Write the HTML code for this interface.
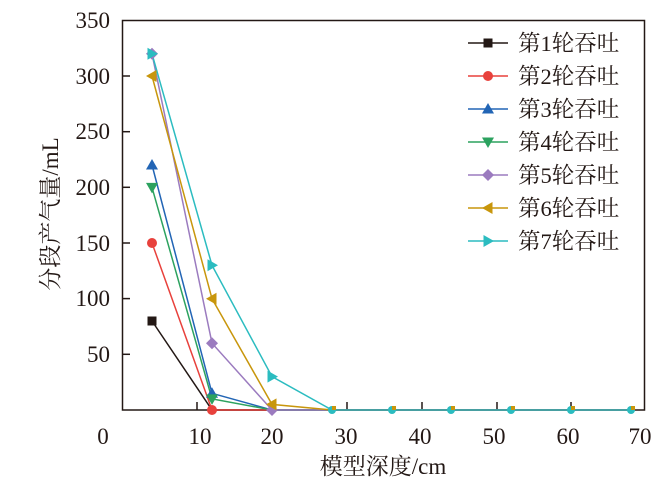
<!DOCTYPE html>
<html><head><meta charset="utf-8"><style>
html,body{margin:0;padding:0;background:#fff;}
svg{display:block;}
text{font-family:"Liberation Serif","Noto Serif CJK SC",serif;fill:#231815;}
</style></head><body>
<svg width="669" height="491" viewBox="0 0 669 491" xmlns="http://www.w3.org/2000/svg">
<defs>
<g id="sq"><rect x="-4.5" y="-4.5" width="9" height="9"/></g>
<g id="ci"><circle r="5"/></g>
<g id="tu"><polygon points="0,-6 6,4.5 -6,4.5"/></g>
<g id="td"><polygon points="0,6 6,-4.5 -6,-4.5"/></g>
<g id="di"><polygon points="0,-6 6,0 0,6 -6,0"/></g>
<g id="tl"><polygon points="-6,0 4.5,-6 4.5,6"/></g>
<g id="tr"><polygon points="6,0 -4.5,-6 -4.5,6"/></g>
<g id="sm"><circle r="4"/></g>
</defs>
<rect x="122.5" y="20.5" width="522" height="389.5" fill="none" stroke="#231815" stroke-width="1.5"/>
<g stroke="#231815" stroke-width="1.5">
<line x1="122" y1="354.3" x2="130" y2="354.3"/>
<line x1="122" y1="298.6" x2="130" y2="298.6"/>
<line x1="122" y1="243" x2="130" y2="243"/>
<line x1="122" y1="187.3" x2="130" y2="187.3"/>
<line x1="122" y1="131.7" x2="130" y2="131.7"/>
<line x1="122" y1="76" x2="130" y2="76"/>
<line x1="197" y1="410" x2="197" y2="402"/>
<line x1="272" y1="410" x2="272" y2="402"/>
<line x1="347" y1="410" x2="347" y2="402"/>
<line x1="422" y1="410" x2="422" y2="402"/>
<line x1="497" y1="410" x2="497" y2="402"/>
<line x1="571" y1="410" x2="571" y2="402"/>
</g>
<g font-size="23" text-anchor="end">
<text x="110" y="362">50</text>
<text x="110" y="306">100</text>
<text x="110" y="251">150</text>
<text x="110" y="195">200</text>
<text x="110" y="139">250</text>
<text x="110" y="84">300</text>
<text x="110" y="28">350</text>
</g>
<g font-size="23" text-anchor="middle">
<text x="103" y="444">0</text>
<text x="200" y="444">10</text>
<text x="272" y="444">20</text>
<text x="346" y="444">30</text>
<text x="420" y="444">40</text>
<text x="494" y="444">50</text>
<text x="568" y="444">60</text>
<text x="640" y="444">70</text>
</g>
<text x="383" y="474" font-size="23" text-anchor="middle">模型深度/cm</text>
<text transform="translate(58,214) rotate(-90)" font-size="23" text-anchor="middle">分段产气量/mL</text>
<g fill="none" stroke-width="1.5">
<polyline stroke="#231815" points="152,321 212,410 272,410 332,410 392,410 451,410 511,410 571,410 631,410"/>
<polyline stroke="#e8413c" points="152,243 212,410 272,410 332,410 392,410 451,410 511,410 571,410 631,410"/>
<polyline stroke="#2265b5" points="152,165 212,393.3 272,410 332,410"/>
<polyline stroke="#2ca25f" points="152,187.4 212,398.9 272,410 332,410"/>
<polyline stroke="#9b7bbf" points="152,53.8 212,343.2 272,410 332,410"/>
<polyline stroke="#c8960c" points="152,76 212,298.7 272,404.4 332,410"/>
<polyline stroke="#2bbcc0" points="152,53.8 212,265.3 272,376.6 332,410 392,410 451,410 511,410 571,410 631,410"/>
</g>
<g fill="#231815"><use href="#sq" x="152" y="321"/></g>
<g fill="#e8413c"><use href="#ci" x="152" y="243"/><use href="#ci" x="212" y="410"/></g>
<g fill="#2265b5"><use href="#tu" x="152" y="165"/><use href="#tu" x="212" y="393.3"/></g>
<g fill="#2ca25f"><use href="#td" x="152" y="187.4"/><use href="#td" x="212" y="398.9"/></g>
<g fill="#9b7bbf"><use href="#di" x="152" y="53.8"/><use href="#di" x="212" y="343.2"/><use href="#di" x="272" y="410"/></g>
<g fill="#c8960c"><use href="#tl" x="152" y="76"/><use href="#tl" x="212" y="298.7"/><use href="#tl" x="272" y="404.4"/></g>
<g fill="#2bbcc0"><use href="#tr" x="152" y="53.8"/><use href="#tr" x="212" y="265.3"/><use href="#tr" x="272" y="376.6"/></g>
<g fill="#2bbcc0">
<use href="#sm" x="332" y="410"/><use href="#sm" x="392" y="410"/><use href="#sm" x="451" y="410"/><use href="#sm" x="511" y="410"/><use href="#sm" x="571" y="410"/><use href="#sm" x="631" y="410"/></g>
<g fill="#c8960c">
<rect x="332" y="406" width="4" height="4"/><rect x="392" y="406" width="4" height="4"/><rect x="451" y="406" width="4" height="4"/><rect x="511" y="406" width="4" height="4"/><rect x="571" y="406" width="4" height="4"/><rect x="631" y="406" width="4" height="4"/></g>
<g stroke-width="1.5">
<line x1="468" y1="43" x2="508" y2="43" stroke="#231815"/>
<line x1="468" y1="76" x2="508" y2="76" stroke="#e8413c"/>
<line x1="468" y1="109" x2="508" y2="109" stroke="#2265b5"/>
<line x1="468" y1="142" x2="508" y2="142" stroke="#2ca25f"/>
<line x1="468" y1="175" x2="508" y2="175" stroke="#9b7bbf"/>
<line x1="468" y1="208" x2="508" y2="208" stroke="#c8960c"/>
<line x1="468" y1="241" x2="508" y2="241" stroke="#2bbcc0"/>
</g>
<use href="#sq" x="488" y="43" fill="#231815"/>
<use href="#ci" x="488" y="76" fill="#e8413c"/>
<use href="#tu" x="488" y="109" fill="#2265b5"/>
<use href="#td" x="488" y="142" fill="#2ca25f"/>
<use href="#di" x="488" y="175" fill="#9b7bbf"/>
<use href="#tl" x="488" y="208" fill="#c8960c"/>
<use href="#tr" x="488" y="241" fill="#2bbcc0"/>
<g font-size="22.5">
<text x="518" y="51">第1轮吞吐</text>
<text x="518" y="84">第2轮吞吐</text>
<text x="518" y="117">第3轮吞吐</text>
<text x="518" y="150">第4轮吞吐</text>
<text x="518" y="183">第5轮吞吐</text>
<text x="518" y="216">第6轮吞吐</text>
<text x="518" y="249">第7轮吞吐</text>
</g>
</svg>
</body></html>
